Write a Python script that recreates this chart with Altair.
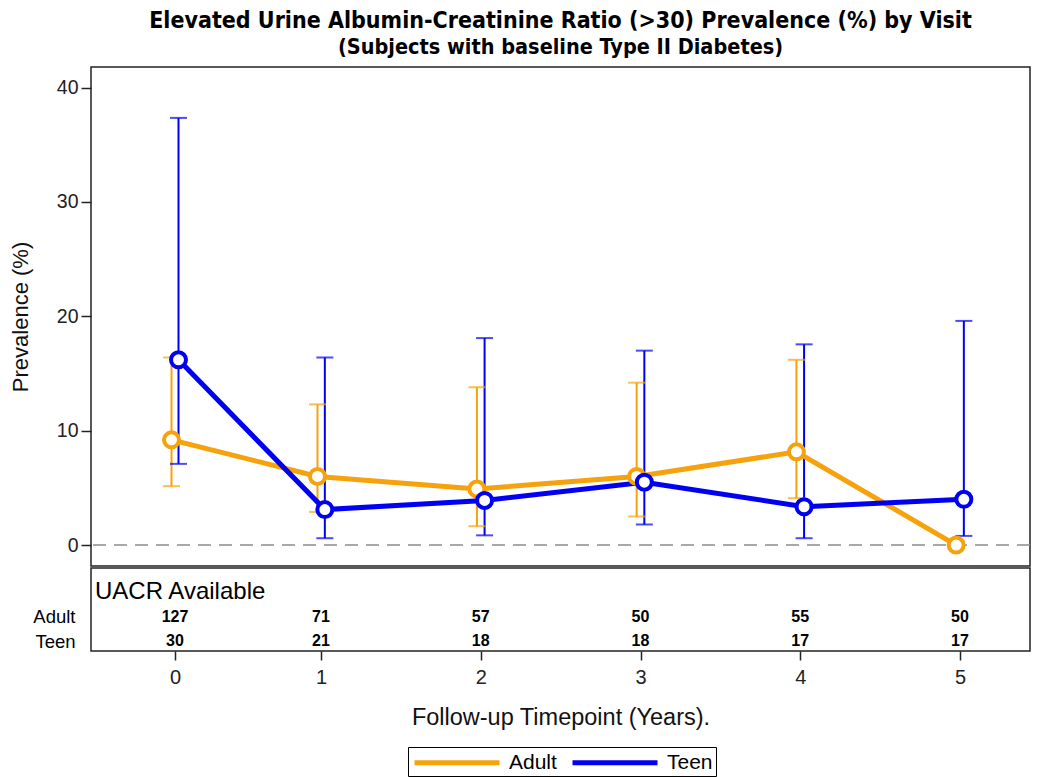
import altair as alt
import pandas as pd

# ---------------- data ----------------
years = [0, 1, 2, 3, 4, 5]
groups = ["Adult", "Teen"]
colors = ["#F6A20C", "#0000F2"]

adult_prev = [9.2, 6.0, 4.9, 6.0, 8.15, 0.0]
adult_lo = [5.15, 2.9, 1.65, 2.5, 4.1, None]
adult_hi = [16.4, 12.3, 13.8, 14.2, 16.2, None]

teen_prev = [16.2, 3.1, 3.9, 5.5, 3.35, 4.0]
teen_lo = [7.1, 0.6, 0.85, 1.8, 0.6, 0.8]
teen_hi = [37.35, 16.4, 18.1, 17.0, 17.55, 19.6]

adult_n = [127, 71, 57, 50, 55, 50]
teen_n = [30, 21, 18, 18, 17, 17]

y_ticks = [0, 10, 20, 30, 40]
table_header = "UACR Available"

# ---------------- tables ----------------
rows = []
for g, pv, lo, hi in [("Adult", adult_prev, adult_lo, adult_hi),
                      ("Teen", teen_prev, teen_lo, teen_hi)]:
    for i, yr in enumerate(years):
        rows.append(dict(group=g, year=yr, prev=pv[i], lo=lo[i], hi=hi[i]))
df = pd.DataFrame(rows)

trows = []
for g, ns in [("Adult", adult_n), ("Teen", teen_n)]:
    for i, yr in enumerate(years):
        trows.append(dict(row=g, year=yr, n=ns[i]))
tdf = pd.DataFrame(trows)
hdf = pd.DataFrame([dict(row=table_header, label=table_header)])

FONT = "Liberation Sans, Arial, sans-serif"
TFONT = "Liberation Sans Narrow, Arial Narrow, DejaVu Sans Condensed, sans-serif"

W, H_TOP, H_BOT = 939, 499, 83

xscale = alt.Scale(domain=[-0.575, 0, 1, 5, 5.4375], range=[0, 84, 230, 869, 939],
                   nice=False, zero=False)
yscale = alt.Scale(domain=[-1.83, 41.8], nice=False, zero=False)

legend = alt.Legend(
    title=None, orient="none", legendX=317, legendY=680,
    direction="horizontal", strokeColor="black", fillColor="white",
    padding=3, symbolType="M-4.25,0H4.25", symbolSize=400,
    symbolStrokeWidth=5, symbolOffset=33.5, labelOffset=39.5,
    symbolOpacity=1, labelFontSize=21, columnPadding=5, labelFont=FONT,
    labelColor="black",
)
COLOR = alt.Color("group:N", scale=alt.Scale(domain=groups, range=colors),
                  legend=legend)

yaxis = alt.Axis(values=y_ticks, title="Prevalence (%)", titleFontSize=22,
                 titleFontWeight="normal", titlePadding=24, labelFontSize=19.5,
                 tickSize=10, labelPadding=3, domain=False, grid=False,
                 labelFont=FONT, titleFont=FONT)

base = alt.Chart(df).transform_calculate(
    xd="datum.year + (datum.group == 'Adult' ? -0.024 : 0.024)"
)
X = alt.X("xd:Q", scale=xscale, axis=None)

zero = alt.Chart(pd.DataFrame({"v": [0]})).mark_rule(
    strokeDash=[13, 8], color="#8c8c8c", strokeWidth=1.6
).encode(y=alt.Y("v:Q", scale=yscale, axis=yaxis))

errbars = base.transform_filter("isValid(datum.lo)").mark_rule(strokeWidth=2).encode(
    x=X,
    y=alt.Y("lo:Q", scale=yscale, axis=yaxis),
    y2="hi:Q",
    color=COLOR,
)

caps = base.transform_filter("isValid(datum.lo)").transform_fold(
    ["lo", "hi"], as_=["cap", "val"]
).mark_tick(orient="horizontal", size=17, thickness=2).encode(
    x=X,
    y=alt.Y("val:Q", scale=yscale, axis=yaxis),
    color=COLOR,
)

lines = base.mark_line(strokeWidth=5).encode(
    x=X,
    y=alt.Y("prev:Q", scale=yscale, axis=yaxis),
    color=COLOR,
)

points = base.mark_point(shape="circle", filled=False, fill="white", fillOpacity=1,
                         size=225, strokeWidth=4, opacity=1).encode(
    x=X,
    y=alt.Y("prev:Q", scale=yscale, axis=yaxis),
    color=COLOR,
)

top = alt.layer(zero, errbars, caps, lines, points).properties(
    width=W, height=H_TOP,
    title=alt.TitleParams(
        text="Elevated Urine Albumin-Creatinine Ratio (>30) Prevalence (%) by Visit",
        subtitle="(Subjects with baseline Type II Diabetes)",
        frame="group", anchor="middle", font=TFONT, fontSize=23,
        fontWeight="bold", color="black", subtitleFont=TFONT,
        subtitleFontSize=21.5, subtitleFontWeight="bold", subtitleColor="black",
        subtitlePadding=4, offset=9,
    ),
)

# ---------------- bottom table ----------------
yrow = alt.Scale(type="point", domain=[table_header, "Adult", "Teen"],
                 padding=0.694, align=0.706)
yaxis_row = alt.Axis(title=None, ticks=False, domain=False, grid=False,
                     labelExpr="datum.value == '%s' ? '' : datum.value" % table_header,
                     labelFontSize=18.5, labelPadding=16, labelColor="black",
                     labelFont=FONT)
xaxis = alt.Axis(values=years, format="d", title="Follow-up Timepoint (Years).",
                 titleFontSize=23.5, titleFontWeight="normal", titleFont=FONT,
                 labelFont=FONT, labelFontSize=20, tickSize=9, labelPadding=7,
                 titlePadding=18, domain=False, grid=False)

nums = alt.Chart(tdf).mark_text(fontWeight="bold", fontSize=16, font=FONT,
                                color="black").encode(
    x=alt.X("year:Q", scale=xscale, axis=xaxis),
    y=alt.Y("row:N", scale=yrow, axis=yaxis_row),
    text="n:Q",
)
header = alt.Chart(hdf).mark_text(align="left", fontSize=24, font=FONT,
                                  color="black").encode(
    x=alt.value(4),
    y=alt.Y("row:N", scale=yrow, axis=yaxis_row),
    text="label:N",
)
bottom = alt.layer(nums, header).properties(width=W, height=H_BOT)

chart = alt.vconcat(top, bottom, spacing=0).properties(padding=0).configure_view(
    stroke="#222", strokeWidth=1.5
).configure_axis(
    labelColor="#222", tickColor="#222", titleColor="#111", tickWidth=1.5
)

chart.save("out.html", embed_options={"renderer": "svg", "actions": False})
